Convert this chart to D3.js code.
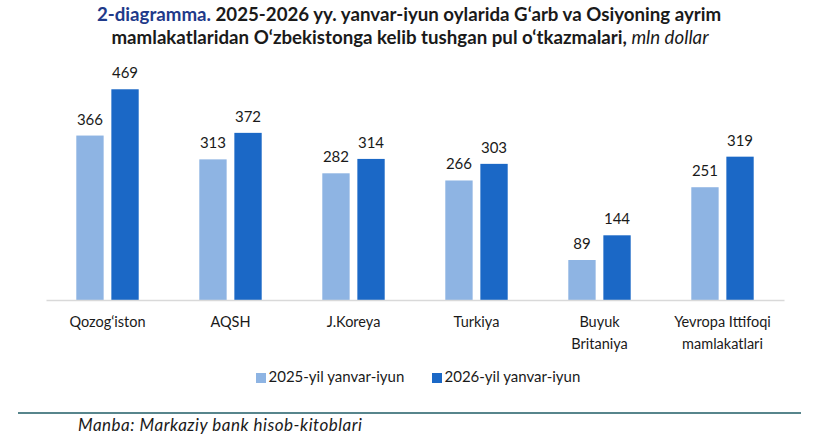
<!DOCTYPE html>
<html><head><meta charset="utf-8">
<script src="https://cdn.jsdelivr.net/npm/d3@7"></script>
<style>
html,body{margin:0;padding:0;background:#fff;}
svg{display:block;font-family:Lato,"Open Sans",sans-serif;}
</style></head>
<body>
<svg id="c" width="833" height="443"></svg>
<script>
const categories = [["Qozog‘iston"],["AQSH"],["J.Koreya"],["Turkiya"],["Buyuk","Britaniya"],["Yevropa Ittifoqi","mamlakatlari"]];
const series = ["2025-yil yanvar-iyun","2026-yil yanvar-iyun"];
const values2025 = [366,313,282,266,89,251];
const values2026 = [469,372,314,303,144,319];
const colors = ["#8EB4E3","#1B68C6"];

const svg = d3.select("#c");
const x = d3.scaleBand().domain(d3.range(categories.length)).range([46,784]).paddingInner(0).paddingOuter(0);
const bw = x.bandwidth();
const xi = d3.scaleBand().domain([0,1]).range([bw/2-31.2, bw/2+31.2]).paddingInner(0.22);
const y = d3.scaleLinear().domain([0,500]).range([300,75.35]);

// Title
const t = svg.append("text").attr("text-anchor","middle").attr("font-weight","bold").attr("font-size",18.7).attr("fill","#1a1a1a");
const t1 = t.append("tspan").attr("x",409).attr("y",21);
t1.append("tspan").attr("fill","#1F3A8A").text("2-diagramma.");
t1.append("tspan").text(" 2025-2026 yy. yanvar-iyun oylarida G‘arb va Osiyoning ayrim");
const t2 = t.append("tspan").attr("x",410).attr("y",44);
t2.append("tspan").text("mamlakatlaridan O‘zbekistonga kelib tushgan pul o‘tkazmalari, ");
t2.append("tspan").attr("font-weight","normal").attr("font-style","italic").text("mln dollar");

// bars
const data = categories.map((c,i)=>({i, v:[values2025[i], values2026[i]]}));
const g = svg.append("g");
data.forEach(d=>{
  d.v.forEach((v,s)=>{
    const bx = x(d.i)+xi(s);
    g.append("rect").attr("x",bx).attr("y",y(v)).attr("width",xi.bandwidth()).attr("height",y(0)-y(v)).attr("fill",colors[s]);
    g.append("text").attr("x",bx+xi.bandwidth()/2).attr("y",y(v)-11).attr("text-anchor","middle")
      .attr("font-size",15).attr("fill","#1a1a1a").text(v);
  });
});

// axis
const ax = svg.append("g").attr("transform","translate(0,300)").call(d3.axisBottom(x).tickSize(0).tickFormat(""));
ax.select(".domain").attr("stroke","#D9D9D9").attr("stroke-width",1.3);
categories.forEach((c,i)=>{
  c.forEach((line,k)=>{
    svg.append("text").attr("x",x(i)+bw/2).attr("y",327+k*22).attr("text-anchor","middle")
      .attr("font-size",14.5).attr("fill","#1a1a1a").text(line);
  });
});

// legend
const lx = [256, 432];
series.forEach((s,k)=>{
  svg.append("rect").attr("x",lx[k]).attr("y",373).attr("width",10).attr("height",10).attr("fill",colors[k]);
  svg.append("text").attr("x",lx[k]+12.5).attr("y",382).attr("font-size",15).attr("fill","#1a1a1a").text(s);
});

// footer
svg.append("line").attr("x1",18).attr("x2",801).attr("y1",413).attr("y2",413).attr("stroke","#1F5C66").attr("stroke-width",1.3);
svg.append("text").attr("x",78).attr("y",430.5).attr("font-size",17).attr("font-style","italic").attr("fill","#1a1a1a")
  .attr("textLength",284).attr("lengthAdjust","spacing").text("Manba: Markaziy bank hisob-kitoblari");
</script>
</body></html>
